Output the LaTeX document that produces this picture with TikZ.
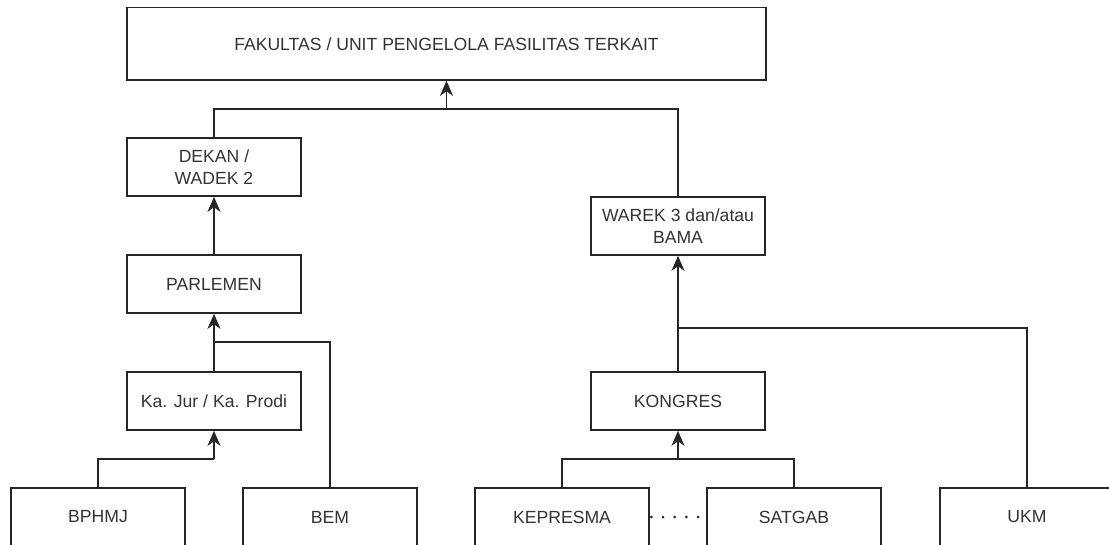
\documentclass[tikz,border=0pt]{standalone}
\usepackage{fontspec}
\setmainfont{Liberation Sans}
\usetikzlibrary{arrows.meta}
\definecolor{boxtext}{RGB}{51,51,51}
\begin{document}
\begin{tikzpicture}[x=1pt,y=-1pt,
  unit/.style={draw=black!85, line width=1.6pt, fill=white, rectangle,
    minimum width=174pt, minimum height=58pt, inner sep=0pt,
    align=center, text=boxtext, font=\fontsize{17.6}{21.5}\selectfont},
  link/.style={draw=black!85, line width=1.6pt},
  up/.style={link, -{Stealth[length=15pt,width=13pt,inset=4.5pt]}}]
\useasboundingbox (0,0) rectangle (1109,544);
\clip (0,0) rectangle (1109,544);
\fill[white] (0,0) rectangle (1109,544);

% boxes
\node[unit, minimum width=639pt, minimum height=72.5pt] (top) at (446.5,43.75) {FAKULTAS / UNIT PENGELOLA FASILITAS TERKAIT};
\node[unit] (dekan) at (214,167) {DEKAN /\\WADEK 2};
\node[unit] (parlemen) at (214,284) {PARLEMEN};
\node[unit] (kajur) at (214,401) {Ka. Jur / Ka. Prodi};
\node[unit] (bphmj) at (98,517) {BPHMJ};
\node[unit] (bem) at (330,517) {BEM};
\node[unit] (warek) at (678,226) {WAREK 3 dan/atau\\BAMA};
\node[unit] (kongres) at (678,401) {KONGRES};
\node[unit] (kepresma) at (562,517) {KEPRESMA};
\node[unit] (satgab) at (794,517) {SATGAB};
\node[unit] (ukm) at (1027,517) {UKM};

% junction points
\coordinate (jtop) at (446.5,109);
\coordinate (jparl) at (214,342);
\coordinate (jkajur) at (214,459);
\coordinate (jwarek) at (678,328);
\coordinate (jkong) at (678,459);

% upper level
\draw[link] (dekan.north) |- (jtop);
\draw[link] (warek.north) |- (jtop);
\draw[up] (jtop) -- (top.south);

% left branch
\draw[up] (parlemen.north) -- (dekan.south);
\draw[link] (kajur.north) -- (jparl);
\draw[link] (bem.north) |- (jparl);
\draw[up] (jparl) -- (parlemen.south);
\draw[link] (bphmj.north) |- (jkajur);
\draw[up] (jkajur) -- (kajur.south);

% right branch
\draw[link] (kongres.north) -- (jwarek);
\draw[link] (ukm.north) |- (jwarek);
\draw[up] (jwarek) -- (warek.south);
\draw[link] (kepresma.north) |- (jkong);
\draw[link] (satgab.north) |- (jkong);
\draw[up] (jkong) -- (kongres.south);

% dotted link between KEPRESMA and SATGAB
\draw[black!85, line width=3pt, line cap=round, dash pattern=on 0pt off 11.7pt, dash phase=-1.5pt]
  (kepresma.east) -- (satgab.west);
\end{tikzpicture}
\end{document}
